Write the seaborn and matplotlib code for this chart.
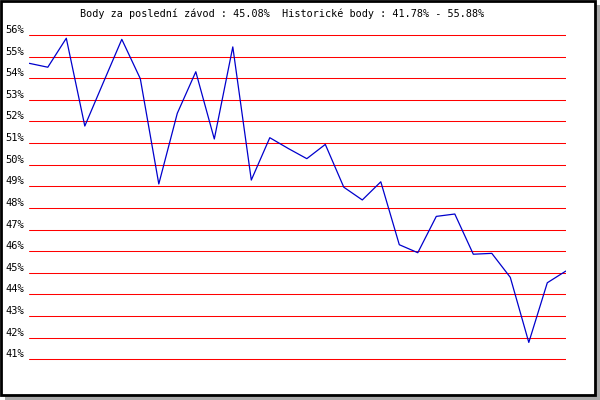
import matplotlib
matplotlib.use('Agg')
import matplotlib.pyplot as plt
import matplotlib.patches as mpatches
import seaborn as sns
import pandas as pd

# points per race
races = list(range(30))
points = [54.69, 54.51, 55.85, 51.79, 53.80, 55.80, 53.98, 49.11, 52.38, 54.30,
          51.19, 55.45, 49.29, 51.25, 50.75, 50.28, 50.94, 48.96, 48.37, 49.21,
          46.30, 45.93, 47.61, 47.72, 45.86, 45.90, 44.79, 41.78, 44.54, 45.08]
yticks = list(range(41, 57))
ytick_labels = ['%d%%' % v for v in yticks]
title = 'Body za poslední závod : 45.08%  Historické body : 41.78% - 55.88%'

sns.set_style('white')
plt.rcParams['font.family'] = ['DejaVu Sans Mono', 'DejaVu Sans']
plt.rcParams['text.color'] = 'black'
plt.rcParams['ytick.color'] = 'black'

W, H = 600, 400
fig = plt.figure(figsize=(6, 4), dpi=100)

# shadow + framed panel (pixel coords, y from top)
def px_rect(x0, y0, x1, y1, **kw):
    return mpatches.Rectangle((x0 / W, 1 - y1 / H), (x1 - x0) / W, (y1 - y0) / H,
                              transform=fig.transFigure, figure=fig, zorder=-10, **kw)

fig.patches.append(px_rect(5, 5, 600, 400, facecolor='#aaaaaa', edgecolor='none'))
fig.patches.append(px_rect(1, 1, 594.5, 394.5, facecolor='white', edgecolor='black',
                           linewidth=2.0))

# axes: x 29.3..565.8 px, y 40.5..56.5 -> 24.2..370.1 px
ax = fig.add_axes([29.3 / W, 1 - 370.1 / H, 536.5 / W, 345.9 / H])
ax.set_facecolor('none')

df = pd.DataFrame({'race': races, 'points': points})
sns.lineplot(data=df, x='race', y='points', ax=ax, color='#0000cc', linewidth=0.9)

ax.set_xlim(0, 29)
ax.set_ylim(40.5, 56.5)
ax.set_yticks(yticks)
ax.set_yticklabels(ytick_labels, fontsize=7.5, va='bottom', color='black')
ax.set_xticks([])
ax.tick_params(axis='y', length=0, pad=3.5)
ax.yaxis.grid(True, color='#ff0000', linewidth=0.75)
ax.set_axisbelow(True)
ax.set_xlabel('')
ax.set_ylabel('')
for s in ax.spines.values():
    s.set_visible(False)

fig.text(282 / W, 1 - 14 / H, title, ha='center', va='center', fontsize=7.3,
         color='black')

fig.savefig('out.png', dpi=100)
